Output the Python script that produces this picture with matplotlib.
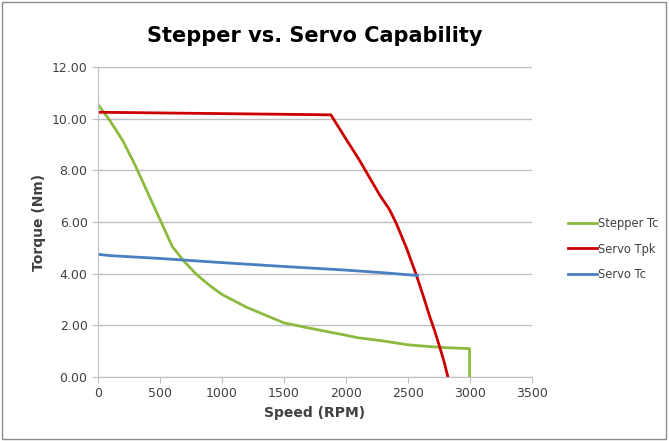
import matplotlib
matplotlib.use("Agg")
from matplotlib import pyplot as plt
from matplotlib.patches import Rectangle

# stepper continuous torque
stepper_rpm = [0, 100, 200, 300, 400, 500, 600, 700, 800, 900, 1000, 1200, 1400, 1500, 1700, 2000, 2100, 2300, 2500, 2700, 2800, 3000, 3000]
stepper_tc = [10.55, 9.9, 9.15, 8.2, 7.15, 6.1, 5.05, 4.45, 3.95, 3.55, 3.2, 2.7, 2.3, 2.1, 1.9, 1.62, 1.52, 1.4, 1.25, 1.17, 1.14, 1.1, 0.0]

# servo peak torque
servo_pk_rpm = [0, 1880, 2000, 2110, 2274, 2355, 2408, 2490, 2570, 2630, 2677, 2720, 2758, 2795, 2825]
servo_tpk = [10.25, 10.15, 9.23, 8.4, 7.05, 6.47, 5.95, 5.0, 3.95, 3.08, 2.36, 1.76, 1.17, 0.58, 0.0]

# servo continuous torque
servo_c_rpm = [0, 100, 500, 1000, 1500, 2000, 2300, 2580]
servo_tc = [4.75, 4.7, 4.59, 4.43, 4.28, 4.14, 4.04, 3.93]

fig = plt.figure(figsize=(6.69, 4.41), dpi=100)
ax = fig.add_axes([0.1465, 0.145, 0.648, 0.703])

ax.plot(stepper_rpm, stepper_tc, color='#8cba3f', lw=2, label='Stepper Tc')
ax.plot(servo_pk_rpm, servo_tpk, color='#cc0000', lw=2, label='Servo Tpk')
ax.plot(servo_c_rpm, servo_tc, color='#4a7fc1', lw=2, label='Servo Tc')

ax.set_xlim(0, 3500)
ax.set_ylim(0, 12)
ax.set_xticks(range(0, 3501, 500))
ax.set_yticks(range(0, 13, 2))
ax.set_yticklabels(['%.2f' % v for v in range(0, 13, 2)])
ax.grid(axis='y', color='#bfbfbf', lw=1)
ax.set_axisbelow(True)
for s in ['top', 'right']:
    ax.spines[s].set_visible(False)
for s in ['left', 'bottom']:
    ax.spines[s].set_color('#bfbfbf')
ax.tick_params(axis='both', colors='#bfbfbf', labelcolor='#404040', labelsize=9, length=4)
ax.set_xlabel('Speed (RPM)', fontsize=10, fontweight='bold', color='#404040')
ax.set_ylabel('Torque (Nm)', fontsize=10, fontweight='bold', color='#404040')
ax.set_title('Stepper vs. Servo Capability', fontsize=15, fontweight='bold', pad=18)

ax.legend(loc='center left', bbox_to_anchor=(1.06, 0.413), frameon=False,
          fontsize=8.3, handlelength=2.5, handletextpad=0.1, labelspacing=1.1,
          labelcolor='#404040')

fig.patches.append(Rectangle((0.003, 0.005), 0.992, 0.99, transform=fig.transFigure,
                             fill=False, edgecolor='#8c8c8c', lw=1))

fig.savefig('out.png', dpi=100)
